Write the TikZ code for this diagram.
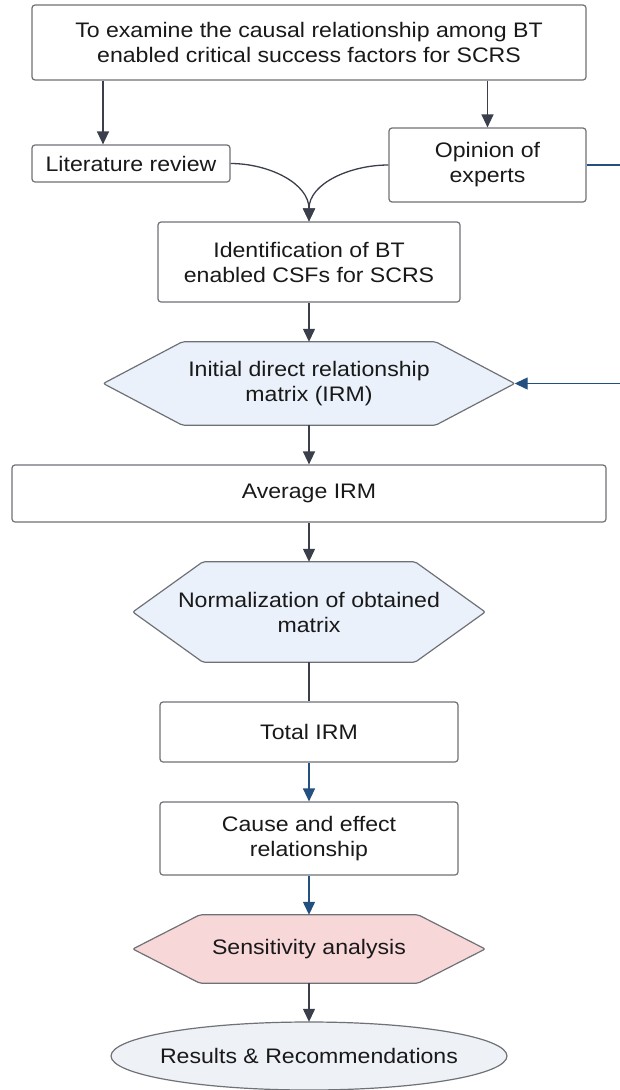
\documentclass[tikz,border=0pt]{standalone}
\usepackage{fontspec}
\setmainfont{Liberation Sans}[FakeStretch=1.1]
\usetikzlibrary{arrows.meta,shapes.geometric,backgrounds}
\definecolor{boxline}{HTML}{6E7176}
\definecolor{arrdark}{HTML}{3A3F4B}
\definecolor{arrblue}{HTML}{24507F}
\definecolor{hexblue}{HTML}{EAF1FB}
\definecolor{hexpink}{HTML}{F8D7D9}
\definecolor{ellfill}{HTML}{EEF1F5}
\newcommand\hexshape[3]{%
  \draw[boxline,line width=1.2pt,rounded corners=2pt,fill=#3]
    (#1.west) -- ([xshift=#2]#1.north west) -- ([xshift=-#2]#1.north east)
    -- (#1.east) -- ([xshift=-#2]#1.south east) -- ([xshift=#2]#1.south west) -- cycle;}
\begin{document}
\begin{tikzpicture}[x=1pt,y=-1pt,
  every node/.style={font=\fontsize{21}{25}\selectfont,align=center,inner sep=0pt,text=black!90},
  procbox/.style={draw=boxline,line width=1.2pt,rounded corners=3pt,fill=white},
  hexnode/.style={},
  arr/.style={draw=arrdark,line width=1.3pt,-{Triangle[length=13pt,width=12pt]}},
  arrb/.style={draw=arrblue,line width=1.3pt,-{Triangle[length=13pt,width=12pt]}},
  plain/.style={draw=arrdark,line width=1.3pt}]
\useasboundingbox (0,0) rectangle (619,1090);
\node[procbox,minimum width=554pt,minimum height=75pt] (top) at (309,42.5)
  {To examine the causal relationship among BT\\enabled critical success factors for SCRS};
\node[procbox,minimum width=198pt,minimum height=37pt] (lit) at (131,163.5) {Literature review};
\node[procbox,minimum width=197pt,minimum height=74pt] (op) at (487.5,165) {Opinion of\\experts};
\node[procbox,minimum width=302pt,minimum height=80pt] (ident) at (309,262)
  {Identification of BT\\enabled CSFs for SCRS};
\node[hexnode,minimum width=411pt,minimum height=83pt] (irm) at (309,383.5)
  {Initial direct relationship\\matrix (IRM)};
\node[procbox,minimum width=594pt,minimum height=57pt] (avg) at (309,493.5) {Average IRM};
\node[hexnode,minimum width=352pt,minimum height=100pt] (norm) at (309,612)
  {Normalization of obtained\\matrix};
\node[procbox,minimum width=298pt,minimum height=60pt] (total) at (309,732) {Total IRM};
\node[procbox,minimum width=298pt,minimum height=73pt] (cause) at (309,838.5)
  {Cause and effect\\relationship};
\node[hexnode,minimum width=352pt,minimum height=68pt] (sens) at (309,949) {Sensitivity analysis};
\node[minimum width=396pt,minimum height=68pt] (res) at (309,1056)
  {Results \& Recommendations};
\begin{scope}[on background layer]
  \hexshape{irm}{79pt}{hexblue}
  \hexshape{norm}{70pt}{hexblue}
  \hexshape{sens}{67pt}{hexpink}
  \draw[boxline,line width=1.2pt,fill=ellfill] (res.center) ellipse [x radius=198pt,y radius=34pt];
\end{scope}
\draw[arr] ([xshift=-28pt]lit.north |- top.south) -- ([xshift=-28pt]lit.north);
\draw[arr] (op.north |- top.south) -- (op.north);
\draw[arr] (lit.east) to[out=0,in=90] (ident.north);
\draw[arr] (op.west) to[out=180,in=90] (ident.north);
\draw[arrb] (op.east) -- ++(36,0) |- (irm.east);
\draw[arr] (ident.south) -- (irm.north);
\draw[arr] (irm.south) -- (avg.north);
\draw[arr] (avg.south) -- (norm.north);
\draw[plain] (norm.south) -- (total.north);
\draw[arrb] (total.south) -- (cause.north);
\draw[arrb] (cause.south) -- (sens.north);
\draw[arr] (sens.south) -- (res.north);
\end{tikzpicture}
\end{document}
